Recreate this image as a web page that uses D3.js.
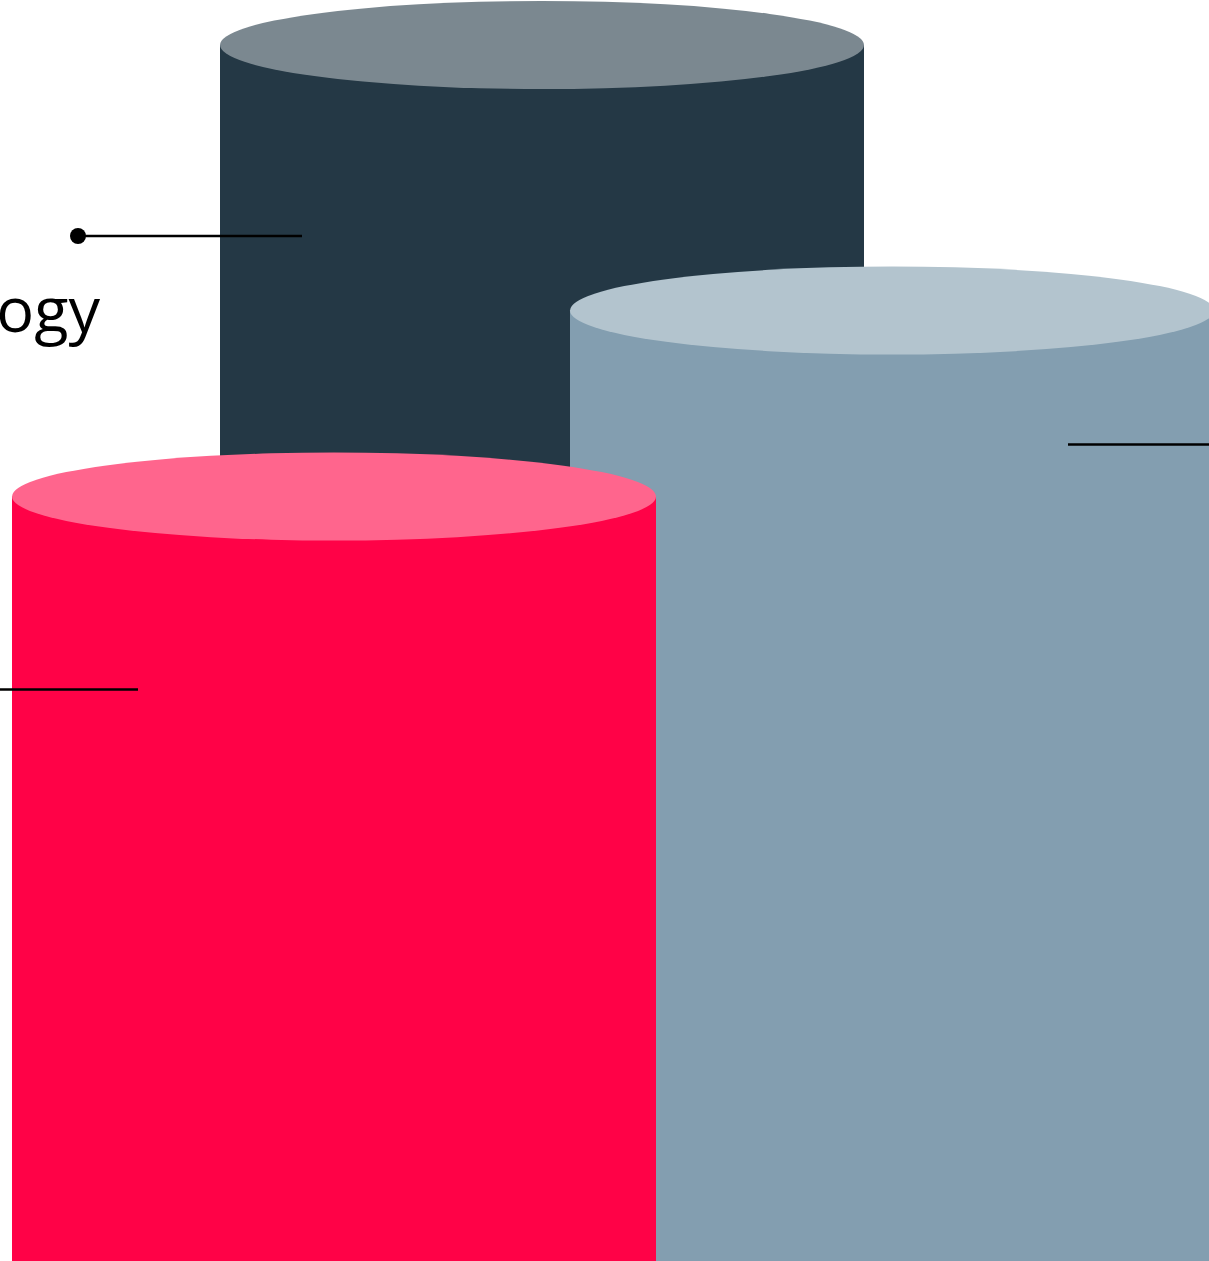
<!DOCTYPE html>
<html>
<head>
<meta charset="utf-8">
<script src="https://cdn.jsdelivr.net/npm/d3@7"></script>
<style>
  html, body { margin: 0; padding: 0; background: #ffffff; overflow: hidden; }
  svg { display: block; }
</style>
</head>
<body>
<svg id="chart" width="1209" height="1261"></svg>
<script>
// ---- data ----
const categories = ["Technology", "Services", "Retail"];
const values = [97.0, 79.3, 66.9];
const bodyColors = ["#243845", "#839eb0", "#ff0247"];
const topColors = ["#7b8890", "#b3c4ce", "#ff658d"];
const labels = ["Technology", "", ""];

// ---- layout ----
const W = 1209, H = 1261;
const svg = d3.select("#chart");
const y = d3.scaleLinear().domain([0, 100]).range([1500, 0]);
const x = d3.scaleOrdinal().domain(categories).range([542, 892, 334]);
const rx = 322, ry = 44;
const baseY = y(0);

const data = categories.map((c, i) => ({
  cat: c, value: values[i], body: bodyColors[i], top: topColors[i], label: labels[i]
}));

const g = svg.append("g");
const cyl = g.selectAll("g.cyl").data(data).join("g").attr("class", "cyl");

cyl.append("path")
  .attr("d", d => {
    const cx = x(d.cat), ty = y(d.value);
    return `M${cx - rx},${ty} L${cx - rx},${baseY} A${rx},${ry} 0 0 0 ${cx + rx},${baseY} L${cx + rx},${ty} Z`;
  })
  .attr("fill", d => d.body);

cyl.append("ellipse")
  .attr("cx", d => x(d.cat))
  .attr("cy", d => y(d.value))
  .attr("rx", rx)
  .attr("ry", ry)
  .attr("fill", d => d.top);

// ---- leader lines ----
const leaders = [
  { cat: "Technology", x1: 78, x2: 302, dy: 191, dot: true },
  { cat: "Services", x1: 1068, x2: 1215, dy: 134, dot: false },
  { cat: "Retail", x1: -10, x2: 138, dy: 193, dot: false }
];
const lv = d => values[categories.indexOf(d.cat)];

svg.append("g").selectAll("line").data(leaders).join("line")
  .attr("x1", d => d.x1).attr("x2", d => d.x2)
  .attr("y1", d => y(lv(d)) + d.dy).attr("y2", d => y(lv(d)) + d.dy)
  .attr("stroke", "#000").attr("stroke-width", 2.5);

svg.append("g").selectAll("circle").data(leaders.filter(d => d.dot)).join("circle")
  .attr("cx", d => d.x1).attr("cy", d => y(lv(d)) + d.dy)
  .attr("r", 8).attr("fill", "#000");

svg.append("text")
  .attr("x", 100)
  .attr("y", y(values[0]) + 287)
  .attr("text-anchor", "end")
  .attr("font-family", "'Open Sans', 'Noto Sans', sans-serif")
  .attr("font-size", 63)
  .attr("fill", "#000")
  .text(labels[0]);
</script>
</body>
</html>
